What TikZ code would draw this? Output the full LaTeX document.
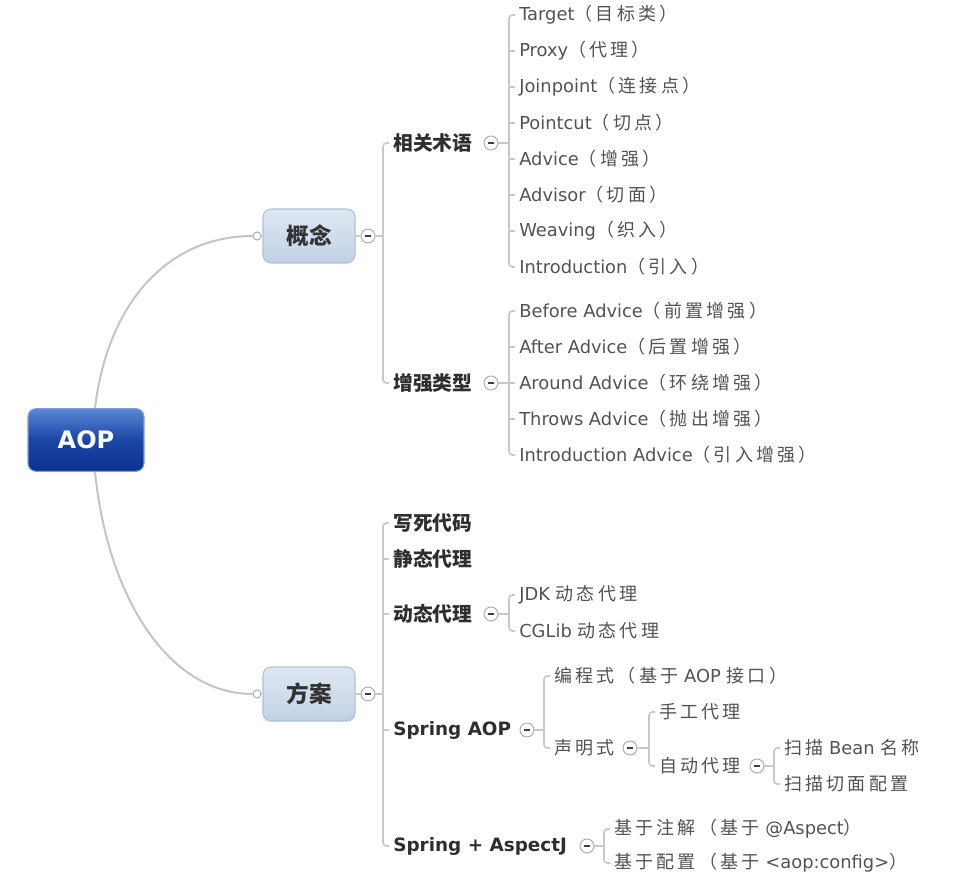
\documentclass[tikz,border=0pt]{standalone}
\usepackage{fontspec}
\setmainfont{DejaVu Sans}
\newfontfamily\cjk[LetterSpace=18]{Noto Sans CJK SC}
\newfontfamily\cjkb{Noto Sans CJK SC}
\usetikzlibrary{calc}
\definecolor{linec}{HTML}{C8C8C8}
\definecolor{curvc}{HTML}{C4C4C4}
\definecolor{iconc}{HTML}{A8A8A8}
\definecolor{leafc}{HTML}{525252}
\definecolor{midc}{HTML}{2E2E2E}
\definecolor{aopt}{HTML}{5A86D4}
\definecolor{aopm}{HTML}{1A46A6}
\definecolor{aopb}{HTML}{0B3191}
\definecolor{aopbd}{HTML}{7D9ED8}
\definecolor{kt}{HTML}{DEE8F3}
\definecolor{kb}{HTML}{C1D1E4}
\definecolor{kbd}{HTML}{AFC1D6}
\definecolor{kc}{HTML}{333333}
\newcommand\zh[1]{{\cjk\fontsize{13.5}{15}\selectfont #1}}
\newcommand\zhb[1]{{\cjkb\fontsize{14.8}{16}\selectfont #1}}
\newcommand\lp{（}
\newcommand\rp{）}
\begin{document}
\begin{tikzpicture}[x=0.75pt,y=-0.75pt,
  lf/.style={anchor=west, inner xsep=3pt, inner ysep=1pt, text=leafc, font=\fontsize{13.4}{15}\selectfont},
  md/.style={anchor=west, inner xsep=3pt, inner ysep=1pt, text=midc, font=\fontsize{13.8}{16}\selectfont\bfseries},
  br/.style={draw=linec, line width=1.2pt, rounded corners=2.5pt},
  crv/.style={draw=curvc, line width=1.5pt},
  mnode/.style={circle, draw=iconc, fill=white, line width=0.7pt, minimum size=10.5pt, inner sep=0pt,
    path picture={\draw[line width=1.4pt, black!75] ($(path picture bounding box.center)+(-3.2,0)$) -- ($(path picture bounding box.center)+(3.2,0)$);}},
  jdot/.style={circle, draw=iconc, fill=white, line width=0.7pt, minimum size=6pt, inner sep=0pt},
  aopbox/.style={rounded corners=6pt, draw=aopbd, line width=0.8pt, top color=aopt, bottom color=aopb, middle color=aopm,
    minimum width=87pt, minimum height=47pt, text=white, font=\fontsize{18}{20}\selectfont\bfseries},
  kbox/.style={rounded corners=6pt, draw=kbd, line width=0.8pt, top color=kt, bottom color=kb,
    minimum width=69pt, minimum height=40.5pt, text=kc, font=\cjkb\fontsize{17}{19}\selectfont\bfseries}
]
\useasboundingbox (0,0) rectangle (967,891);

% root and main branches
\node[aopbox] (aop) at (86,440) {AOP};
\node[kbox] (c1) at (309,236) {概念};
\node[kbox] (c2) at (309,694) {方案};
\node[jdot] (d1) at (257,236) {};
\node[jdot] (d2) at (257,694) {};
\node[mnode] (mc1) at (368,236) {};
\node[mnode] (mc2) at (368,694) {};
\draw[crv] ($(aop.north)+(9,0)$) .. controls (108,300) and (170,236) .. (d1.west);
\draw[crv] ($(aop.south)+(9,0)$) .. controls (108,600) and (170,694) .. (d2.west);
\draw[br] (d1.east) -- (c1.west);
\draw[br] (d2.east) -- (c2.west);
\draw[br] (c1.east) -- (mc1.west);
\draw[br] (c2.east) -- (mc2.west);

% 概念 children
\node[md] (a1) at (389,143) {\zhb{相关术语}};
\node[md] (a2) at (389,383) {\zhb{增强类型}};
\node[mnode] (ma1) at (491,143) {};
\node[mnode] (ma2) at (491,383) {};
\draw[br] (a1.west) -- ++(-6,0) |- (a2.west);
\draw[br] (mc1.east) -- ($(a1.west |- mc1.east)+(-6,0)$);

% 相关术语 leaves
\node[lf] (t1) at (515,15) {Target\zh{\lp 目标类\rp}};
\node[lf] (t2) at (515,51) {Proxy\zh{\lp 代理\rp}};
\node[lf] (t3) at (515,87) {Joinpoint\zh{\lp 连接点\rp}};
\node[lf] (t4) at (515,123) {Pointcut\zh{\lp 切点\rp}};
\node[lf] (t5) at (515,159) {Advice\zh{\lp 增强\rp}};
\node[lf] (t6) at (515,195) {Advisor\zh{\lp 切面\rp}};
\node[lf] (t7) at (515,231) {Weaving\zh{\lp 织入\rp}};
\node[lf] (t8) at (515,267) {Introduction\zh{\lp 引入\rp}};
\draw[br] (t1.west) -- ++(-6,0) |- (t8.west);
\foreach \n in {t2,t3,t4,t5,t6,t7} \draw[br] (\n.west) -- ++(-6,0);
\draw[br] (ma1.east) -- ($(t1.west |- ma1.east)+(-6,0)$);

% 增强类型 leaves
\node[lf] (e1) at (515,311) {Before Advice\zh{\lp 前置增强\rp}};
\node[lf] (e2) at (515,347) {After Advice\zh{\lp 后置增强\rp}};
\node[lf] (e3) at (515,383) {Around Advice\zh{\lp 环绕增强\rp}};
\node[lf] (e4) at (515,419) {Throws Advice\zh{\lp 抛出增强\rp}};
\node[lf] (e5) at (515,455) {Introduction Advice\zh{\lp 引入增强\rp}};
\draw[br] (e1.west) -- ++(-6,0) |- (e5.west);
\foreach \n in {e2,e3,e4} \draw[br] (\n.west) -- ++(-6,0);
\draw[br] (ma2.east) -- ($(e1.west |- ma2.east)+(-6,0)$);

% 方案 children
\node[md] (b1) at (389,523) {\zhb{写死代码}};
\node[md] (b2) at (389,559) {\zhb{静态代理}};
\node[md] (b3) at (389,614) {\zhb{动态代理}};
\node[md] (b4) at (389,730) {Spring AOP};
\node[md] (b5) at (389,846) {Spring + AspectJ};
\node[mnode] (mb3) at (491,614) {};
\node[mnode] (mb4) at (527,730) {};
\node[mnode] (mb5) at (587,846) {};
\draw[br] (b1.west) -- ++(-6,0) |- (b5.west);
\foreach \n in {b2,b3,b4} \draw[br] (\n.west) -- ++(-6,0);
\draw[br] (mc2.east) -- ($(b1.west |- mc2.east)+(-6,0)$);

% 动态代理 leaves
\node[lf] (p1) at (515,595) {JDK \zh{动态代理}};
\node[lf] (p2) at (515,631) {CGLib \zh{动态代理}};
\draw[br] (p1.west) -- ++(-6,0) |- (p2.west);
\draw[br] (mb3.east) -- ($(p1.west |- mb3.east)+(-6,0)$);

% Spring AOP children
\node[lf] (s1) at (550,676) {\zh{编程式\lp 基于} AOP \zh{接口\rp}};
\node[lf] (s2) at (550,748) {\zh{声明式}};
\node[mnode] (ms2) at (630,748) {};
\draw[br] (s1.west) -- ++(-6,0) |- (s2.west);
\draw[br] (mb4.east) -- ($(s1.west |- mb4.east)+(-6,0)$);

% 声明式 children
\node[lf] (h1) at (655,712) {\zh{手工代理}};
\node[lf] (h2) at (655,766) {\zh{自动代理}};
\node[mnode] (mh2) at (757,766) {};
\draw[br] (h1.west) -- ++(-6,0) |- (h2.west);
\draw[br] (ms2.east) -- ($(h1.west |- ms2.east)+(-6,0)$);

% 自动代理 children
\node[lf] (z1) at (780,748) {\zh{扫描} Bean \zh{名称}};
\node[lf] (z2) at (780,784) {\zh{扫描切面配置}};
\draw[br] (z1.west) -- ++(-6,0) |- (z2.west);
\draw[br] (mh2.east) -- ($(z1.west |- mh2.east)+(-6,0)$);

% Spring + AspectJ children
\node[lf] (j1) at (610,829) {\zh{基于注解\lp 基于} @Aspect\zh{\rp}};
\node[lf] (j2) at (610,863) {\zh{基于配置\lp 基于} <aop:config>\zh{\rp}};
\draw[br] (j1.west) -- ++(-6,0) |- (j2.west);
\draw[br] (mb5.east) -- ($(j1.west |- mb5.east)+(-6,0)$);
\end{tikzpicture}
\end{document}
